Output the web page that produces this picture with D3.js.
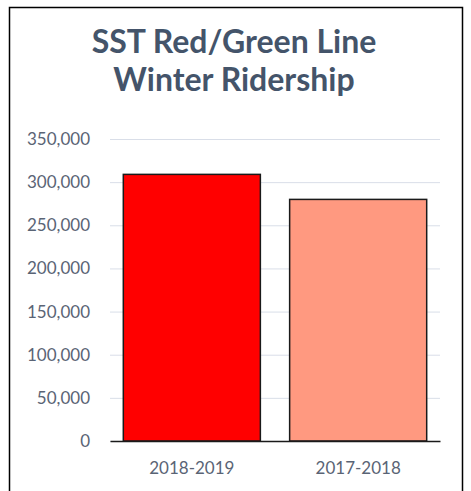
<!DOCTYPE html>
<html>
<head>
<meta charset="utf-8">
<script src="https://cdn.jsdelivr.net/npm/d3@7"></script>
<style>
  body { margin: 0; background: #fff; }
  svg { display: block; }
</style>
</head>
<body>
<div class="graph"></div>
<script>
"use strict";

var categories = ["2018-2019", "2017-2018"];
var riders = [309000, 280000];
var barColors = ["#FF0000", "#FF9980"];
var yTicks = [0, 50000, 100000, 150000, 200000, 250000, 300000, 350000];
var titleLines = ["SST Red/Green Line", "Winter Ridership"];

var width = 471, height = 491;

var svg = d3.select('.graph').append('svg')
    .attr('width', width)
    .attr('height', height)

// frame round the chart area
svg.append('path')
    .attr('d', 'M9.5,' + height + 'V7.5H462.5V' + height)
    .attr('fill', 'none')
    .attr('stroke', '#000')
    .attr('stroke-width', 1.5)

var x = d3.scaleBand()
    .domain(categories)
    .range([110, 440])
    .paddingInner(0.176)
    .paddingOuter(0.08)

var y = d3.scaleLinear()
    .domain([0, 350000])
    .range([441, 139])

svg.append('g')
    .selectAll('text')
    .data(titleLines)
    .enter().append('text')
    .attr('x', 234)
    .attr('y', function(d, i) { return 53 + i * 38 })
    .attr('text-anchor', 'middle')
    .attr('font-family', 'Lato, sans-serif')
    .attr('font-weight', 'bold')
    .attr('font-size', '32px')
    .attr('fill', '#44546A')
    .text(function(d) { return d })

// gridlines + labels
var yAxis = d3.axisLeft(y)
    .tickValues(yTicks)
    .tickSize(-330)
    .tickPadding(20)
    .tickFormat(d3.format(','))

var axisY = svg.append('g')
    .attr('transform', 'translate(110,0)')
    .call(yAxis)

axisY.select('.domain').remove()
axisY.selectAll('line')
    .attr('stroke', '#D9DEE8')
    .attr('stroke-width', 1)
axisY.selectAll('text')
    .attr('font-family', 'Lato, sans-serif')
    .attr('font-size', '17px')
    .attr('fill', '#5A6475')

svg.append('g')
    .selectAll('rect')
    .data(riders)
    .enter().append('rect')
    .attr('x', function(d, i) { return x(categories[i]) })
    .attr('y', function(d) { return y(d) })
    .attr('width', x.bandwidth())
    .attr('height', function(d) { return y(0) - y(d) })
    .attr('fill', function(d, i) { return barColors[i] })
    .attr('stroke', '#1a1a1a')
    .attr('stroke-width', 1.5)

var xAxis = d3.axisBottom(x)
    .tickSize(0)
    .tickPadding(21)

var axisX = svg.append('g')
    .attr('transform', 'translate(0,' + y(0) + ')')
    .call(xAxis)

axisX.select('.domain')
    .attr('stroke', '#1a1a1a')
    .attr('stroke-width', 1.5)
axisX.selectAll('text')
    .attr('font-family', 'Lato, sans-serif')
    .attr('font-size', '17px')
    .attr('fill', '#5A6475')
</script>
</body>
</html>
